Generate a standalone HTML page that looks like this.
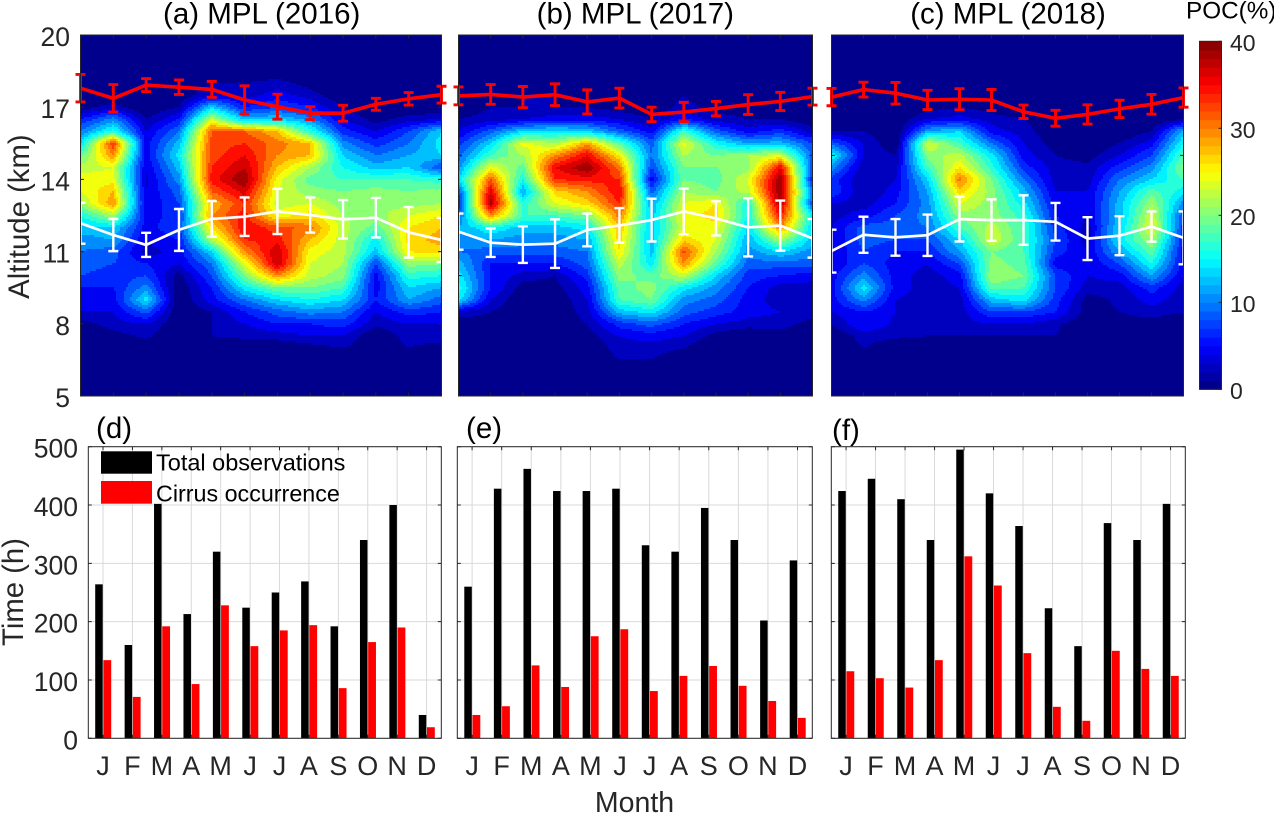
<!DOCTYPE html>
<html lang="en">
<head>
<meta charset="utf-8">
<title>MPL cirrus occurrence 2016-2018</title>
<style>
html,body{margin:0;padding:0;background:#fff;width:1274px;height:813px;overflow:hidden}
svg{display:block}
text{font-family:"Liberation Sans",Arial,sans-serif;fill:#262626}
</style>
</head>
<body>
<svg id="fig" xmlns="http://www.w3.org/2000/svg" width="1274" height="813" viewBox="0 0 1274 813">
  <g id="heatmaps"></g>
  <g id="bars"></g>
  <g id="overlays"></g>
  <g id="axes"></g>
  <g id="cbar"></g>

  <text x="261.7" y="23.5" font-size="29.5" text-anchor="middle" style="fill:#000">(a) MPL (2016)</text>
  <text x="635.3" y="23.5" font-size="29.5" text-anchor="middle" style="fill:#000">(b) MPL (2017)</text>
  <text x="1008" y="23.5" font-size="29.5" text-anchor="middle" style="fill:#000">(c) MPL (2018)</text>
  <text x="1186" y="18.3" font-size="24.3" style="fill:#000">POC(%)</text>
  <text transform="translate(29,216.6) rotate(-90)" font-size="29.3" text-anchor="middle">Altitude (km)</text>
  <text transform="translate(23,592) rotate(-90)" font-size="29.3" text-anchor="middle">Time (h)</text>
  <text x="634.5" y="812" font-size="28.5" text-anchor="middle">Month</text>
  <text x="96" y="438" font-size="29.5" style="fill:#000">(d)</text>
  <text x="466" y="438" font-size="29.5" style="fill:#000">(e)</text>
  <text x="832" y="440" font-size="29.5" style="fill:#000">(f)</text>

  <g>
    <rect x="101" y="451.3" width="51" height="22.4" fill="#000"/>
    <rect x="101" y="481" width="51" height="22.7" fill="#f00"/>
    <text x="156" y="470.7" font-size="23.5" style="fill:#000">Total observations</text>
    <text x="156" y="501.7" font-size="23.3" style="fill:#000">Cirrus occurrence</text>
  </g>
</svg>
<script>
// ---------- axis labels ----------
const monthLabels = ['J','F','M','A','M','J','J','A','S','O','N','D'];
const altTickLabelsA = [20,17,14,11,8,5];
const altTicksOther = [20,15,10,5];
const timeTickLabels = [0,100,200,300,400,500];
const cbarTickLabels = [0,10,20,30,40];

// ---------- altitude grid of the POC columns (km) ----------
const altitudes = [18.5,18,17.5,17,16.5,16,15.5,15,14.5,14,13.5,13,12.5,12,11.5,11,10.5,10,9.5,9,8.5,8,7.5,7,6.5];

// ---------- POC (%) per month, one column per month, top to bottom ----------
const pocA = [
[0,0,0,1,6, 10,14,19,23,25, 24,21,16,13,11, 10,9,8,6,5, 4,1,0,0,0],
[0,0,0,3,11, 17,34,30,24,25, 28,30,22,14,12, 9,8,7,6,5, 4,3,1,0,0],
[0,0,0,0,2, 4,5,5,4,3.5, 4,4,5,5,4, 3,6,8,11,15, 9,4,2.5,0,0],
[0,0,0,2,6, 10,13,15,13,11, 9,8,7,8,6, 5,4,1,0,0, 0,0,0,0,0],
[0,2,4,14,24, 32,33,33,34,35, 32,28,30,26,22, 14,10,8,6,5, 2,2,2,0,0],
[0,2,3,6,13, 32,34,36,38,40, 37,34,35,36,34, 30,24,20,15,10, 6,4,2.5,0,0],
[0,3,5,8,14, 28,31,30,28,25, 24,23,25,33,35, 38,38,30,20,14, 9,6,3,0,0],
[0,1,3,6,11, 17,28,28,22,19, 21,24,27,31,28, 25,24,23,20,16, 11,6,4,1,0],
[0,0,0,2,4, 7,11,14,16,18, 20,21,22,23,23, 23,22,21,18,14, 10,7,4,2,0],
[0,0,0,0,1, 4,7,10,13,18, 21,22,21,19,15, 13,8,5,5,6, 4,2.5,0,0,0],
[0,0,0,0,3, 8,10,12,14,18, 20,21,24,26,27, 26,21,17,14,12, 7,4,3,2,0],
[0,0,0,0,4, 14,15,14,8,17, 21,22,26,28,29, 27,20,16,12,9, 6,4,3,1,0]
];
const pocB = [
[0,0,0,0,2, 4,7,9,11,14, 8,6,9,12,11, 10,13,15,17,15, 3,1,0,0,0],
[0,0,1,2,3, 9,14,18,25,32, 37,39,30,16,12, 9,6,6,6,4, 2,1,0,0,0],
[0,0,2,2,4, 14,25,22,19,16, 12,17,18,13,11, 9,6,3,1,0, 0,0,0,0,0],
[0,0,2,2,5, 15,22,30,36,34, 27,24,18,13,11, 9,6,2,1,0, 0,0,0,0,0],
[0,0,0,2,5, 14,29,36,40,35, 30,27,20,15,12, 10,9,7,5,4, 3,2,1,0,0],
[0,0,0,1,4, 9,19,26,31,34, 36,34,31,28,27, 26,23,21,19,18, 13,7,4,3,2],
[0,0,0,0,2, 5,9,10,8,5, 9,12,13,13,13, 13,15,19,21,20, 15,9,5,3,2],
[0,0,2,3,6, 18,25,22,20,20, 22,24,25,24,27, 33,30,23,15,11, 9,6,4,2,0],
[0,0,0,1,3, 9,16,20,20,19, 20,26,27,25,24, 22,19,14,11,9, 7,4,1,0,0],
[0,0,0,1,2, 5,12,22,21,24, 23,16,16,14,12, 11,9,7,6,5, 5,3,0,0,0],
[0,0,0,1,2, 7,13,24,36,40, 40,39,35,30,22, 14,9,6,3,3, 4,3,1,0,0],
[0,0,0,0,0, 3,8,9,8,6, 10,8,15,14,13, 11,9,5,3,3, 3,1,0,0,0]
];
const pocC = [
[0,0,0,0,0, 2,9,16,11,7, 8,4,3,4,4, 4,4,5,5,5, 4,2,0,0,0],
[0,0,0,0,0, 2,4,4,2.5,2, 2,3,5,9,9, 8,8,11,15,11, 6,6,3,2,0],
[0,0,0,0,0, 0,0,2,3,4, 5,6,8,9,8, 6,5,5,5,4, 4,3.5,2.5,0,0],
[0,0,0,1,4, 12,24,21,18,14, 12,11,11,10,8, 6,4,3,3,3, 2.5,2,2,0,0],
[0,0,0,2,5, 14,18,23,26,31, 27,24,21,18,14, 12,8,5,4,3, 3,3,2,0,0],
[0,0,0,1,3, 5,10,15,17,20, 21,21,21,23,24, 20,21,22,19,13, 8,4,2,0,0],
[0,0,0,0,2, 3,4,5,7,10, 13,15,17,18,18, 18,19,20,18,15, 8,4,2,0,0],
[0,0,0,0,0, 0,1,2,3,3, 4,5,6,7,8, 7,5,8,8,7, 6,2.5,2,0,0],
[0,0,0,0,0, 0,0,1,2.5,3, 4,4,4,3,3, 4,4,4,3,1, 1,0,0,0,0],
[0,0,0,0,0, 0,2,4,7,10, 12,13,13,14,15, 12,8,5,3,2.5, 2,1,0,0,0],
[0,0,0,0,0, 2,5,8,11,14, 19,22,24,25,22, 19,16,12,7,5, 3,1,0,0,0],
[0,0,0,0,2, 13,16,19,21,18, 15,11,8,7,6, 5,5,4,3,2.5, 2,0,0,0,0]
];

// ---------- red (cirrus top) and white (cirrus base) lines, km ----------
const topA = [17.79,17.37,17.92,17.83,17.74,17.30,17.02,16.75,16.75,17.12,17.35,17.52];
const topErrA = [0.57,0.57,0.27,0.30,0.33,0.59,0.52,0.27,0.33,0.25,0.26,0.35];
const baseA = [12.18,11.69,11.28,11.90,12.36,12.45,12.67,12.52,12.34,12.41,11.80,11.48];
const baseErrA = [0.85,0.67,0.50,0.87,0.74,0.80,0.94,0.73,0.80,0.82,1.05,0.92];
const topB = [17.47,17.53,17.42,17.52,17.22,17.38,16.70,16.80,16.94,17.11,17.24,17.44];
const topErrB = [0.37,0.41,0.44,0.45,0.50,0.41,0.30,0.40,0.30,0.41,0.38,0.35];
const baseB = [11.83,11.37,11.29,11.33,11.90,12.09,12.31,12.67,12.38,12.01,12.08,11.55];
const baseErrB = [0.75,0.59,0.76,1.01,0.68,0.72,0.89,0.95,0.71,1.21,1.04,0.80];
const topC = [17.42,17.73,17.58,17.30,17.33,17.30,16.81,16.54,16.70,16.93,17.12,17.40];
const topErrC = [0.36,0.31,0.45,0.40,0.44,0.44,0.28,0.33,0.40,0.36,0.41,0.40];
const baseC = [11.02,11.70,11.59,11.68,12.35,12.31,12.31,12.24,11.54,11.66,12.04,11.57];
const baseErrC = [0.89,0.75,0.76,0.86,0.93,0.86,1.03,0.78,0.89,0.81,0.63,1.10];

// ---------- bars, hours ----------
const totalD = [264,160,402,213,320,224,250,269,192,340,400,40];
const cirrusD = [134,71,192,93,228,158,185,194,86,165,190,19];
const totalE = [260,428,462,424,424,428,331,320,395,340,202,305];
const cirrusE = [40,55,125,88,175,187,81,107,124,90,64,35];
const totalF = [424,445,410,340,495,420,364,223,158,369,340,402];
const cirrusF = [115,103,87,134,312,262,146,54,30,150,119,107];

const NS = 'http://www.w3.org/2000/svg';
const INK = '#262626';

function mk(tag, attrs, parent){
  const el = document.createElementNS(NS, tag);
  for (const k in attrs) el.setAttribute(k, attrs[k]);
  parent.appendChild(el);
  return el;
}
function clamp01(v){ return Math.max(0, Math.min(1, v)); }
function jet(v){
  const r = clamp01(1.5 - Math.abs(4*v - 3));
  const g = clamp01(1.5 - Math.abs(4*v - 2));
  const b = clamp01(1.5 - Math.abs(4*v - 1));
  return 'rgb(' + Math.round(r*255) + ',' + Math.round(g*255) + ',' + Math.round(b*255) + ')';
}

// ---------- top row: altitude axis ----------
const topY0 = 35, topY1 = 396;
function altY(a){ return topY0 + (20 - a) * (topY1 - topY0) / 15; }
function monthX(p, i){ return p.x0 + i * (p.x1 - p.x0) / 11; }

function sampleColumn(col, alt){
  const step = altitudes[0] - altitudes[1];
  const t = (altitudes[0] - alt) / step;
  if (t < 0 || t > altitudes.length - 1) return 0;
  const i = Math.floor(t), f = t - i;
  const a = col[i] || 0;
  const b = col[Math.min(i + 1, altitudes.length - 1)] || 0;
  return a + (b - a) * f;
}
function samplePoc(data, u, alt){
  const i = Math.min(Math.floor(u), data.length - 2), f = u - i;
  return sampleColumn(data[i], alt) * (1 - f) + sampleColumn(data[i + 1], alt) * f;
}
function clamp11(u){ return Math.max(0, Math.min(11, u)); }
const bandWidth = 2;
function bandColor(k){ return jet((k + 0.25) * bandWidth / 40); }

function drawHeatmap(p){
  const g = mk('g', {}, document.getElementById('heatmaps'));
  
  
  const x0 = Math.floor(p.x0), x1 = Math.ceil(p.x1);
  const bg = mk('rect', {x: x0, y: topY0, width: x1 - x0, height: topY1 - topY0, fill: bandColor(0), 'shape-rendering': 'crispEdges'}, g);
  
  
  const cell = 2;
  function flush(start, end, py, h, band){
    if (band <= 0 || end <= start) return;
    const r = mk('rect', {x: start, y: py, width: end - start, height: h, fill: bandColor(band), 'shape-rendering': 'crispEdges'}, g);
    
    
  }
  for (let py = topY0; py < topY1; py += cell){
    const h = Math.min(cell, topY1 - py);
    const alt = 20 - (py + h / 2 - topY0) * 15 / (topY1 - topY0);
    let runStart = x0, runBand = -1;
    for (let px = x0; px < x1; px += cell){
      const u = (px + cell / 2 - p.x0) / (p.x1 - p.x0) * 11;
      const band = Math.min(19, Math.floor(samplePoc(p.poc, clamp11(u), alt) / bandWidth));
      if (band !== runBand){
        flush(runStart, px, py, h, runBand);
        runStart = px;
        runBand = band;
      }
    }
    flush(runStart, x1, py, h, runBand);
  }
}

function drawLine(p, vals, errs, color, lw, ew, name){
  const g = mk('g', {fill: 'none', stroke: color}, document.getElementById('overlays'));
  
  
  const pts = vals.map(function(v, i){ return monthX(p, i).toFixed(1) + ',' + altY(v).toFixed(1); }).join(' ');
  const line = mk('polyline', {points: pts, 'stroke-width': lw}, g);
  
  
  vals.forEach(function(v, i){
    const x = monthX(p, i), yt = altY(v + errs[i]), yb = altY(v - errs[i]);
    const d = 'M' + x + ' ' + yt + 'V' + yb + 'M' + (x - 5) + ' ' + yt + 'H' + (x + 5) + 'M' + (x - 5) + ' ' + yb + 'H' + (x + 5);
    const e = mk('path', {d: d, 'stroke-width': ew}, g);
    
    
  });
}

function drawTopAxes(p){
  const g = mk('g', {stroke: INK, 'stroke-width': 1, fill: 'none'}, document.getElementById('axes'));
  
  
  const box = mk('rect', {x: p.x0, y: topY0, width: p.x1 - p.x0, height: topY1 - topY0}, g);
  
  
  for (let i = 1; i < 11; i++){
    const x = monthX(p, i);
    const t = mk('path', {d: 'M' + x + ' ' + topY0 + 'v3.5M' + x + ' ' + topY1 + 'v-3.5'}, g);
    
    
  }
  p.altTicks.forEach(function(a){
    const y = altY(a);
    const t = mk('path', {d: 'M' + p.x0 + ' ' + y + 'h3.5M' + p.x1 + ' ' + y + 'h-3.5'}, g);
    
    
  });
}

const topPanels = [
  {key: 'a', x0: 80.5, x1: 441.5, poc: pocA, top: topA, topErr: topErrA, base: baseA, baseErr: baseErrA, altTicks: altTickLabelsA},
  {key: 'b', x0: 458.5, x1: 812.5, poc: pocB, top: topB, topErr: topErrB, base: baseB, baseErr: baseErrB, altTicks: altTicksOther},
  {key: 'c', x0: 831.5, x1: 1183.5, poc: pocC, top: topC, topErr: topErrC, base: baseC, baseErr: baseErrC, altTicks: altTicksOther}
];
topPanels.forEach(function(p){
  drawHeatmap(p);
  drawTopAxes(p);
  drawLine(p, p.base, p.baseErr, '#fff', 2.7, 2.4, 'cirrus-base');
  drawLine(p, p.top, p.topErr, '#f00', 3.6, 2.9, 'cirrus-top');
});
altTickLabelsA.forEach(function(a){
  const t = mk('text', {x: 70, y: altY(a) + 11, 'font-size': 26.5, 'text-anchor': 'end'}, document.getElementById('axes'));
  
  
  t.textContent = a;
});

// ---------- bottom row: time axis ----------
const botY0 = 446.7, botY1 = 738.3;
function timeY(v){ return botY1 - v * (botY1 - botY0) / 500; }
function barTick(p, i){ return p.x0 + (i + 0.5) * (p.x1 - p.x0) / 12; }

const botPanels = [
  {key: 'd', x0: 88.3, x1: 441.3, total: totalD, cirrus: cirrusD},
  {key: 'e', x0: 457.3, x1: 812.3, total: totalE, cirrus: cirrusE},
  {key: 'f', x0: 831.3, x1: 1185.3, total: totalF, cirrus: cirrusF}
];
botPanels.forEach(function(p){
  const g = mk('g', {}, document.getElementById('bars'));
  
  
  monthLabels.forEach(function(m, i){
    const x = barTick(p, i);
    const gl = mk('line', {x1: x, x2: x, y1: botY0, y2: botY1, stroke: '#d9d9d9', 'stroke-width': 1}, g);
    
    
  });
  timeTickLabels.forEach(function(v){
    const y = timeY(v);
    const gl = mk('line', {x1: p.x0, x2: p.x1, y1: y, y2: y, stroke: '#d9d9d9', 'stroke-width': 1}, g);
    
    
  });
  monthLabels.forEach(function(m, i){
    const x = barTick(p, i);
    const b1 = mk('rect', {x: x - 7.8, width: 7.5, y: timeY(p.total[i]), height: botY1 - timeY(p.total[i]), fill: '#000'}, g);
    
    
    const b2 = mk('rect', {x: x + 0.4, width: 7.8, y: timeY(p.cirrus[i]), height: botY1 - timeY(p.cirrus[i]), fill: '#f00'}, g);
    
    
  });
  const ax = document.getElementById('axes');
  const box = mk('rect', {x: p.x0, y: botY0, width: p.x1 - p.x0, height: botY1 - botY0, fill: 'none', stroke: INK, 'stroke-width': 1}, ax);
  
  
  monthLabels.forEach(function(m, i){
    const x = barTick(p, i);
    const t = mk('path', {d: 'M' + x + ' ' + botY0 + 'v3.5M' + x + ' ' + botY1 + 'v-3.5', stroke: INK, fill: 'none'}, ax);
    
    
    const lb = mk('text', {x: x, y: 775, 'font-size': 27, 'text-anchor': 'middle'}, ax);
    
    
    lb.textContent = m;
  });
  timeTickLabels.forEach(function(v){
    const y = timeY(v);
    const t = mk('path', {d: 'M' + p.x0 + ' ' + y + 'h3.5M' + p.x1 + ' ' + y + 'h-3.5', stroke: INK, fill: 'none'}, ax);
    
    
  });
});
timeTickLabels.forEach(function(v){
  const t = mk('text', {x: 78, y: timeY(v) + 11, 'font-size': 26.5, 'text-anchor': 'end'}, document.getElementById('axes'));
  
  
  t.textContent = v;
});

// ---------- colorbar ----------
const cbX0 = 1199.5, cbX1 = 1221.5, cbY0 = 41.3, cbY1 = 389.3, cbMax = 40;
function cbY(v){ return cbY1 - v * (cbY1 - cbY0) / cbMax; }
(function(){
  const c = document.getElementById('cbar');
  const steps = 40;
  for (let k = 0; k < steps; k++){
    const vLow = k * cbMax / steps, vHigh = (k + 1) * cbMax / steps;
    const r = mk('rect', {x: cbX0, width: cbX1 - cbX0, y: cbY(vHigh), height: cbY(vLow) - cbY(vHigh) + 0.5, fill: jet((k + 0.5) / steps)}, c);
    
    
  }
  const b = mk('rect', {x: cbX0, y: cbY0, width: cbX1 - cbX0, height: cbY1 - cbY0, fill: 'none', stroke: INK, 'stroke-width': 1}, c);
  
  
  cbarTickLabels.forEach(function(v){
    const y = cbY(v);
    const t = mk('path', {d: 'M' + cbX1 + ' ' + y + 'h-3', stroke: INK, fill: 'none'}, c);
    
    
    const lb = mk('text', {x: 1230, y: y + 9.5, 'font-size': 23}, c);
    
    
    lb.textContent = v;
  });
})();
</script>
</body>
</html>
